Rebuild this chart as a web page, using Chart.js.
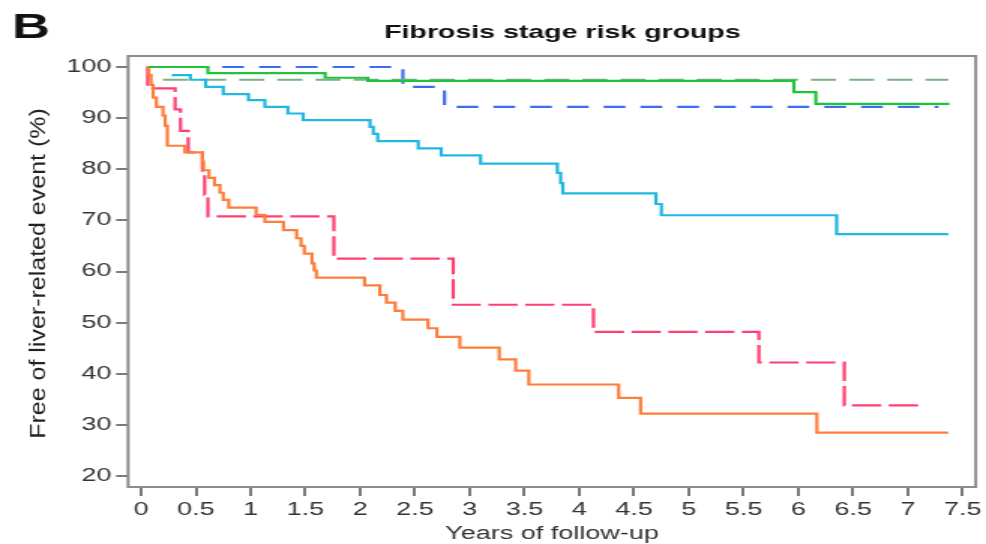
<!DOCTYPE html>
<html>
<head>
<meta charset="utf-8">
<script src="https://cdn.jsdelivr.net/npm/chart.js@4"></script>
<style>
  html, body { margin: 0; padding: 0; background: #fff; }
  canvas { display: block; }
</style>
</head>
<body>
<!-- the source figure is stretched sideways, so the canvas is drawn narrow and widened by CSS -->
<canvas id="km" width="657" height="544" style="width:986px;height:544px"></canvas>
<script>
// Kaplan-Meier steps: time (years) at which the curve drops, and the new % free of event
const greenSolidT = [0.07, 0.61, 1.68, 2.07, 5.96, 6.16, 7.38];
const greenSolidS = [100, 98.8, 97.9, 97.3, 95.1, 92.8, 92.8];

const greenDashT = [0.2, 7.37];
const greenDashS = [97.5, 97.5];

const blueDashT = [0.07, 2.39, 2.77, 7.28];
const blueDashS = [100, 96.1, 92.2, 92.2];

const cyanT = [0.28, 0.45, 0.59, 0.75, 0.98, 1.13, 1.34, 1.48, 2.09, 2.12, 2.16, 2.53, 2.74, 3.10, 3.80, 3.83, 3.85, 4.70, 4.75, 6.35, 7.37];
const cyanS = [98.4, 97.5, 96.1, 94.7, 93.5, 92.2, 90.9, 89.6, 88.3, 86.9, 85.5, 84.1, 82.7, 81.1, 79.3, 77.3, 75.3, 73.2, 71.0, 67.3, 67.3];

const pinkT = [0.05, 0.06, 0.31, 0.36, 0.43, 0.56, 0.58, 0.61, 1.76, 2.85, 4.13, 5.64, 6.42, 7.10];
const pinkS = [100, 95.8, 91.7, 87.5, 83.3, 79.2, 75.0, 70.8, 62.5, 53.5, 48.2, 42.2, 33.8, 33.8];

const orangeT = [0.05, 0.07, 0.09, 0.11, 0.14, 0.20, 0.22, 0.24, 0.40, 0.56, 0.57, 0.62, 0.67, 0.72, 0.75, 0.80,
  1.05, 1.13, 1.30, 1.42, 1.46, 1.49, 1.56, 1.58, 1.60, 2.04, 2.18, 2.24, 2.32, 2.39, 2.62, 2.70, 2.91,
  3.27, 3.42, 3.54, 4.36, 4.56, 6.17, 7.37];
const orangeS = [100, 98.4, 96.5, 94.0, 92.2, 90.5, 88.5, 84.6, 83.3, 81.5, 79.8, 78.3, 76.9, 75.4, 74.0, 72.5,
  71.1, 69.7, 68.1, 66.5, 65.0, 63.5, 61.6, 60.2, 58.8, 57.3, 55.4, 53.9, 52.3, 50.6, 48.9, 47.2, 45.1,
  42.8, 40.6, 37.9, 35.3, 32.2, 28.5, 28.5];

const xTicks = [0, 0.5, 1, 1.5, 2, 2.5, 3, 3.5, 4, 4.5, 5, 5.5, 6, 6.5, 7, 7.5];
const yTicks = [20, 30, 40, 50, 60, 70, 80, 90, 100];

const FONT = '"Liberation Sans", Arial, Helvetica, sans-serif';

function toPoints(t, s) {
  return t.map((x, i) => ({ x: x, y: s[i] }));
}

function curve(t, s, color, dash) {
  return {
    data: toPoints(t, s),
    borderColor: color,
    borderWidth: 2.2,
    borderDash: dash || [],
    stepped: 'before',
    pointRadius: 0,
    fill: false
  };
}

// plot frame, panel letter, title and the (condensed) y axis title
const framePlugin = {
  id: 'frame',
  beforeDatasetsDraw(chart) {
    const a = chart.chartArea;
    const ctx = chart.ctx;
    ctx.save();
    ctx.strokeStyle = '#8c8c8c';
    ctx.lineWidth = 2;
    ctx.strokeRect(a.left, a.top, a.right - a.left, a.bottom - a.top);
    ctx.restore();
  },
  afterDraw(chart) {
    const ctx = chart.ctx;
    const a = chart.chartArea;
    ctx.save();
    ctx.fillStyle = '#111';
    ctx.textBaseline = 'alphabetic';
    ctx.textAlign = 'left';
    ctx.font = 'bold 35px ' + FONT;
    ctx.fillText('B', 8, 38);
    ctx.textAlign = 'center';
    ctx.font = 'bold 19px ' + FONT;
    ctx.fillText('Fibrosis stage risk groups', (a.left + a.right) / 2 + 7, 38);
    ctx.restore();

    ctx.save();
    ctx.fillStyle = '#222';
    ctx.translate(25.5, (a.top + a.bottom) / 2 + 2);
    ctx.rotate(-Math.PI / 2);
    ctx.scale(1, 0.62);
    ctx.textAlign = 'center';
    ctx.textBaseline = 'middle';
    ctx.font = '25px ' + FONT;
    ctx.fillText('Free of liver-related event (%)', 0, 0);
    ctx.restore();
  }
};

new Chart(document.getElementById('km'), {
  type: 'line',
  data: {
    datasets: [
      curve(greenSolidT, greenSolidS, '#1fc43a'),
      curve(orangeT, orangeS, '#ff7d3a'),
      curve(pinkT, pinkS, '#ff3f72', [19.5, 5]),
      curve(cyanT, cyanS, '#22b7df'),
      curve(greenDashT, greenDashS, '#79b088', [16.7, 8.7]),
      curve(blueDashT, blueDashS, '#3d6cf2', [14.5, 10])
    ]
  },
  options: {
    responsive: false,
    animation: false,
    devicePixelRatio: 1,
    layout: { padding: { top: 56, right: 5.67, bottom: 0, left: 0 } },
    plugins: {
      legend: { display: false },
      tooltip: { enabled: false },
      title: { display: false }
    },
    scales: {
      x: {
        type: 'linear',
        min: -0.119,
        max: 7.62,
        afterBuildTicks: s => { s.ticks = xTicks.map(v => ({ value: v })); },
        afterFit: s => { s.height = 57; },
        border: { display: false },
        grid: { drawOnChartArea: false, drawTicks: true, tickLength: 9, color: '#7a7a7a', lineWidth: 2 },
        ticks: {
          autoSkip: false, maxRotation: 0, padding: 3, color: '#333',
          font: { family: FONT, size: 18 },
          callback: v => String(v)
        },
        title: {
          display: true, text: 'Years of follow-up', color: '#333',
          font: { family: FONT, size: 18, lineHeight: 1 }, padding: { top: 0, bottom: 1 }
        }
      },
      y: {
        type: 'linear',
        min: 17.85,
        max: 102.15,
        afterBuildTicks: s => { s.ticks = yTicks.map(v => ({ value: v })); },
        afterFit: s => { s.width = 85.33; },
        border: { display: false },
        grid: { drawOnChartArea: false, drawTicks: true, tickLength: 8, color: '#7a7a7a', lineWidth: 2 },
        ticks: {
          padding: 3, color: '#333',
          font: { family: FONT, size: 18 },
          callback: v => String(v)
        },
        title: { display: false }
      }
    }
  },
  plugins: [framePlugin]
});
</script>
</body>
</html>
